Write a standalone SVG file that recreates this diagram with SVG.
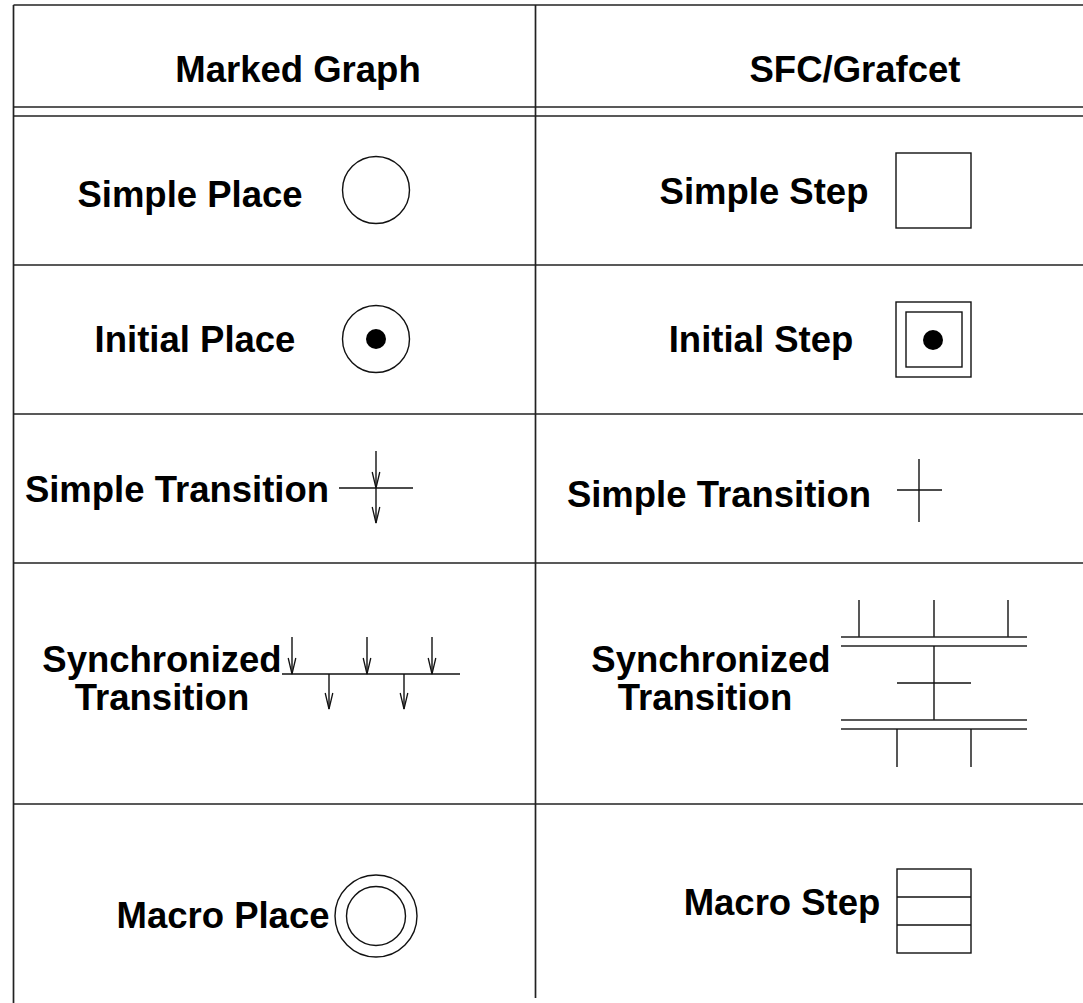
<svg xmlns="http://www.w3.org/2000/svg" width="1083" height="1003" viewBox="0 0 1083 1003">
<style>
.t{font-family:"Liberation Sans",Arial,sans-serif;font-weight:bold;font-size:36.5px;fill:#000;text-anchor:middle}
.g{stroke:#222;stroke-width:1.7;fill:none}
.s{stroke:#111;stroke-width:1.4;fill:none}
.d{fill:#000}
</style>
<defs>
<marker id="ah" viewBox="-17 -5 18 10" refX="0" refY="0" markerWidth="18" markerHeight="10" markerUnits="userSpaceOnUse" orient="auto">
<path d="M-16,-3.8 L0,0 L-16,3.8" fill="none" stroke="#111" stroke-width="1.3"/>
</marker>
</defs>
<g id="table">
<line class="g" x1="13.5" y1="5" x2="1083" y2="5"/>
<line class="g" x1="13.5" y1="5" x2="13.5" y2="1003"/>
<line class="g" x1="535.5" y1="5" x2="535.5" y2="998"/>
<line class="g" x1="13.5" y1="107" x2="1083" y2="107"/>
<line class="g" x1="13.5" y1="116" x2="1083" y2="116"/>
<line class="g" x1="13.5" y1="265" x2="1083" y2="265"/>
<line class="g" x1="13.5" y1="414" x2="1083" y2="414"/>
<line class="g" x1="13.5" y1="563" x2="1083" y2="563"/>
<line class="g" x1="13.5" y1="804" x2="1083" y2="804"/>
</g>
<g id="headers">
<text class="t" x="298" y="82">Marked Graph</text>
<text class="t" x="855" y="82">SFC/Grafcet</text>
</g>
<g id="simple-place">
<text class="t" x="190" y="207">Simple Place</text>
<circle class="s" cx="376" cy="190" r="33.5"/>
</g>
<g id="simple-step">
<text class="t" x="764" y="204">Simple Step</text>
<rect class="s" x="896" y="153" width="75" height="75"/>
</g>
<g id="initial-place">
<text class="t" x="195" y="352">Initial Place</text>
<circle class="s" cx="376" cy="339" r="33.5"/>
<circle class="d" cx="376" cy="339" r="10"/>
</g>
<g id="initial-step">
<text class="t" x="761" y="352">Initial Step</text>
<rect class="s" x="896" y="302" width="75" height="75"/>
<rect class="s" x="906" y="312" width="56" height="55"/>
<circle class="d" cx="933" cy="340" r="10"/>
</g>
<g id="simple-transition-mg">
<text class="t" x="177" y="502">Simple Transition</text>
<line class="s" x1="339" y1="488" x2="413" y2="488"/>
<line class="s" x1="376" y1="451" x2="376" y2="488" marker-end="url(#ah)"/>
<line class="s" x1="376" y1="488" x2="376" y2="523" marker-end="url(#ah)"/>
</g>
<g id="simple-transition-sfc">
<text class="t" x="719" y="507">Simple Transition</text>
<line class="s" x1="897" y1="490" x2="942" y2="490"/>
<line class="s" x1="919" y1="459" x2="919" y2="522"/>
</g>
<g id="sync-transition-mg">
<text class="t" x="162" y="672">Synchronized</text>
<text class="t" x="162" y="710">Transition</text>
<line class="s" x1="282" y1="674" x2="460" y2="674"/>
<line class="s" x1="292" y1="637" x2="292" y2="674" marker-end="url(#ah)"/>
<line class="s" x1="367" y1="637" x2="367" y2="674" marker-end="url(#ah)"/>
<line class="s" x1="432" y1="637" x2="432" y2="674" marker-end="url(#ah)"/>
<line class="s" x1="329" y1="674" x2="329" y2="709" marker-end="url(#ah)"/>
<line class="s" x1="404" y1="674" x2="404" y2="709" marker-end="url(#ah)"/>
</g>
<g id="sync-transition-sfc">
<text class="t" x="711" y="672">Synchronized</text>
<text class="t" x="705" y="710">Transition</text>
<line class="s" x1="859" y1="600" x2="859" y2="637"/>
<line class="s" x1="934" y1="600" x2="934" y2="637"/>
<line class="s" x1="1008" y1="600" x2="1008" y2="637"/>
<line class="g" x1="841" y1="637" x2="1027" y2="637"/>
<line class="g" x1="841" y1="646" x2="1027" y2="646"/>
<line class="s" x1="934" y1="646" x2="934" y2="720"/>
<line class="s" x1="897" y1="683" x2="971" y2="683"/>
<line class="g" x1="841" y1="720" x2="1027" y2="720"/>
<line class="g" x1="841" y1="729" x2="1027" y2="729"/>
<line class="s" x1="897" y1="729" x2="897" y2="767"/>
<line class="s" x1="971" y1="729" x2="971" y2="767"/>
</g>
<g id="macro-place">
<text class="t" x="223" y="928">Macro Place</text>
<circle class="s" cx="376" cy="916" r="41"/>
<circle class="s" cx="376" cy="916" r="29.5"/>
</g>
<g id="macro-step">
<text class="t" x="782" y="915">Macro Step</text>
<rect class="s" x="897" y="869" width="74" height="84"/>
<line class="s" x1="897" y1="897" x2="971" y2="897"/>
<line class="s" x1="897" y1="925" x2="971" y2="925"/>
</g>
</svg>
